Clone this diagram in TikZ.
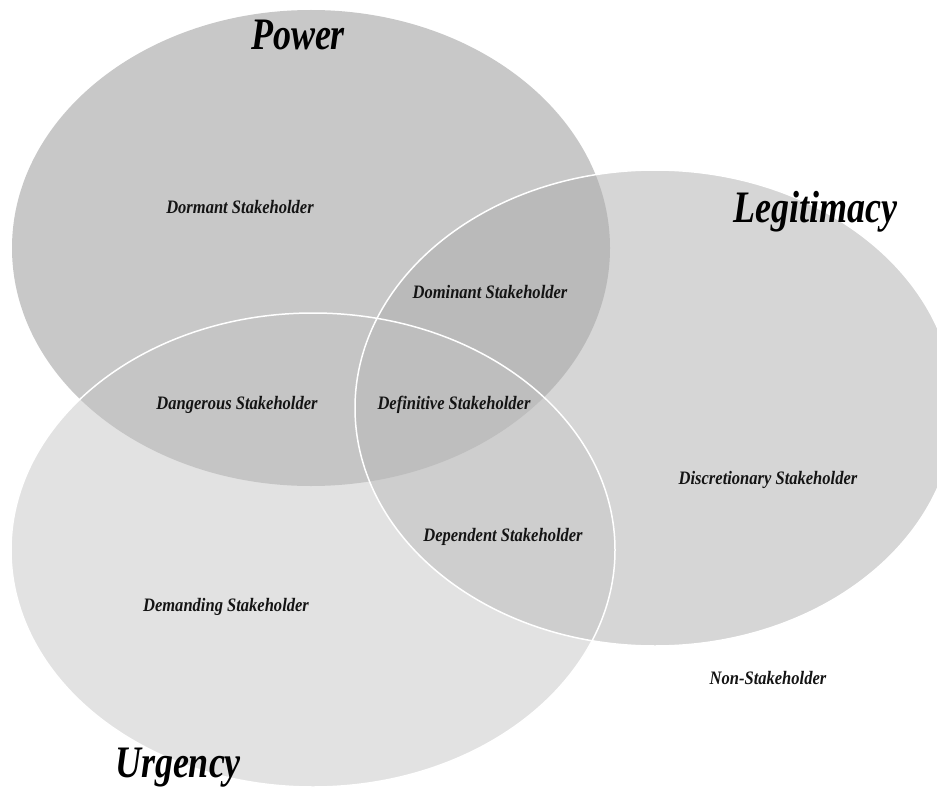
\documentclass[tikz,border=0pt]{standalone}
\usepackage{fontspec}
\setmainfont{Liberation Serif}
\newfontfamily\titlefont{Liberation Serif}[FakeStretch=0.8]
\newfontfamily\labfont{Liberation Serif}[FakeStretch=0.87]
\definecolor{cP}{RGB}{200,200,200}
\definecolor{cL}{RGB}{214,214,214}
\definecolor{cU}{RGB}{226,226,226}
\definecolor{cPL}{RGB}{186,186,186}
\definecolor{cPU}{RGB}{197,197,197}
\definecolor{cLU}{RGB}{206,206,206}
\definecolor{cPLU}{RGB}{190,190,190}
\definecolor{ink}{RGB}{20,20,20}
\newcommand\Pshape{(Pc) ellipse [x radius=299pt, y radius=238pt]}
\newcommand\Lshape{(Lc) ellipse [x radius=300pt, y radius=238pt]}
\newcommand\Ushape{(Uc) ellipse [x radius=302pt, y radius=237pt]}
\begin{document}
\begin{tikzpicture}[x=1pt,y=-1pt,
  title/.style={font=\titlefont\bfseries\itshape\fontsize{45}{50}\selectfont, anchor=base, inner sep=0pt, text=black},
  lab/.style={font=\labfont\bfseries\itshape\fontsize{19}{22}\selectfont, anchor=base, inner sep=0pt, text=ink},
  rim/.style={draw=white, line width=1.5pt}]
\useasboundingbox (0,0) rectangle (937,789);
\fill[white] (0,0) rectangle (937,789);
\coordinate (Pc) at (311,248);
\coordinate (Lc) at (655,408);
\coordinate (Uc) at (313,550);
% single regions
\fill[cP] \Pshape;
\fill[cL] \Lshape;
\fill[cU] \Ushape;
% pairwise overlaps
\begin{scope}
  \clip \Pshape;
  \fill[cPL] \Lshape;
  \fill[cPU] \Ushape;
\end{scope}
\begin{scope}
  \clip \Lshape;
  \fill[cLU] \Ushape;
\end{scope}
% triple overlap
\begin{scope}
  \clip \Pshape;
  \clip \Lshape;
  \fill[cPLU] \Ushape;
\end{scope}
% white rims
\path[rim] \Lshape;
\path[rim] \Ushape;
% titles
\node[title] (power) at (298,50) {Power};
\node[title] (legit) at (815,222) {Legitimacy};
\node[title] (urgency) at (178,777) {Urgency};
% region labels
\node[lab] (dormant) at (240,213) {Dormant Stakeholder};
\node[lab] (dominant) at (490,298) {Dominant Stakeholder};
\node[lab] (dangerous) at (237,409) {Dangerous Stakeholder};
\node[lab] (definitive) at (454,409) {Definitive Stakeholder};
\node[lab] (dependent) at (503,541) {Dependent Stakeholder};
\node[lab] (demanding) at (226,611) {Demanding Stakeholder};
\node[lab] (discretionary) at (768,484) {Discretionary Stakeholder};
\node[lab] (non) at (768,684) {Non-Stakeholder};
\end{tikzpicture}
\end{document}
